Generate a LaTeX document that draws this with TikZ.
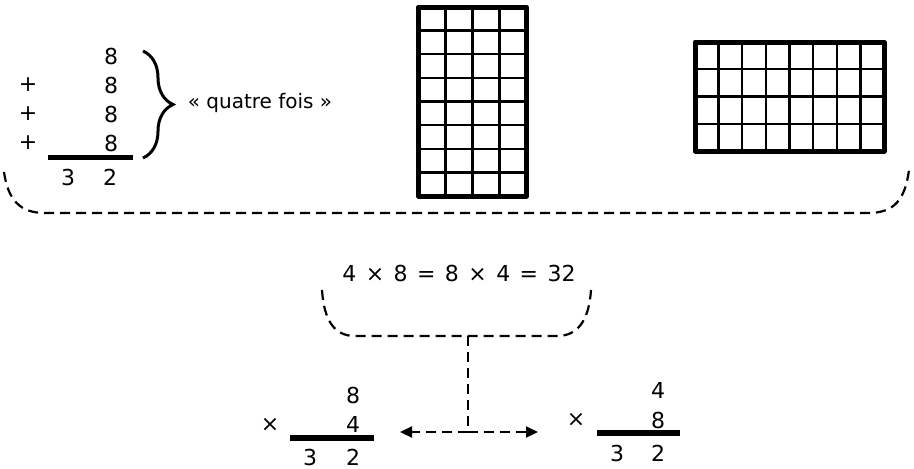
\documentclass[tikz,border=0pt]{standalone}
\usepackage{fontspec}
\setmainfont{DejaVu Sans}
\newfontfamily\eqfont{DejaVu Sans}[WordSpace=1.35]
\usetikzlibrary{arrows.meta,decorations.pathreplacing}
\tikzset{
  digit/.style={inner sep=0pt,font=\fontsize{22}{26}\selectfont},
  sumrule/.style={line width=5.5pt},
  dashln/.style={line width=2.2pt,dash pattern=on 10pt off 6pt},
  gridout/.style={line width=5pt,line join=round},
  gridin/.style={line width=2.3pt},
}
\begin{document}
\begin{tikzpicture}[x=1pt,y=-1pt,>={Triangle[length=12pt,width=11pt]}]
  \useasboundingbox (0,0) rectangle (914,469);
  % eight added four times
  \foreach \r/\y in {1/56,2/85,3/114,4/143}
    \node[digit] (add\r) at (111,\y) {8};
  \foreach \r/\y in {2/85,3/114,4/143}
    \node[digit] (plus\r) at (28,\y) {+};
  \draw[sumrule] (48,157.5) -- (133,157.5);
  \node[digit] (sumT) at (68,177) {3};
  \node[digit] (sumU) at (110,177) {2};
  \draw[line width=3pt,decorate,decoration={brace,amplitude=30pt}] (143,51) -- (143,158);
  \node[inner sep=0pt,font=\fontsize{20}{24}\selectfont] (fois) at (260,103) {« quatre fois »};
  % 4 columns, 8 rows
  \foreach \i in {1,2,3}
    \draw[gridin] ({418.5+27*\i},7) -- ({418.5+27*\i},196);
  \foreach \j in {1,...,7}
    \draw[gridin] (418.5,{7+23.625*\j}) -- (526.5,{7+23.625*\j});
  \draw[gridout] (418.5,7) rectangle (526.5,196);
  % 8 columns, 4 rows
  \foreach \i in {1,...,7}
    \draw[gridin] ({695+23.625*\i},42) -- ({695+23.625*\i},151);
  \foreach \j in {1,2,3}
    \draw[gridin] (695,{42+27.25*\j}) -- (884,{42+27.25*\j});
  \draw[gridout] (695,42) rectangle (884,151);
  % big dashed bracket
  \draw[dashln] (4,172) .. controls (8,200) and (20,213) .. (45,213) -- (868,213)
      .. controls (894,213) and (905,200) .. (909,170);
  % equality
  \node[inner sep=0pt,font=\eqfont\fontsize{22}{26}\selectfont] (eq) at (459,273) {4 × 8 = 8 × 4 = 32};
  \draw[dashln] (322,290) .. controls (324,320) and (334,336) .. (355,336) -- (557,336)
      .. controls (578,336) and (589,320) .. (591,290);
  \coordinate (brk) at (468,336);
  \coordinate (fork) at (468,432);
  \coordinate (arrL) at (400,432);
  \coordinate (arrR) at (538,432);
  \draw[dashln] (brk) -- (fork);
  \draw[dashln,->] (fork) -- (arrL);
  \draw[dashln,->] (fork) -- (arrR);
  % 8 times 4
  \node[digit] (mulA1) at (353,395) {8};
  \node[digit] (mulA2) at (353,424) {4};
  \node[digit] (timesA) at (270,425) {×};
  \draw[sumrule] (290,438) -- (374,438);
  \node[digit] (resAT) at (310,457) {3};
  \node[digit] (resAU) at (353,457) {2};
  % 4 times 8
  \node[digit] (mulB1) at (658,390) {4};
  \node[digit] (mulB2) at (658,420) {8};
  \node[digit] (timesB) at (576,420) {×};
  \draw[sumrule] (597,433) -- (680,433);
  \node[digit] (resBT) at (617,453) {3};
  \node[digit] (resBU) at (658,453) {2};
\end{tikzpicture}
\end{document}
